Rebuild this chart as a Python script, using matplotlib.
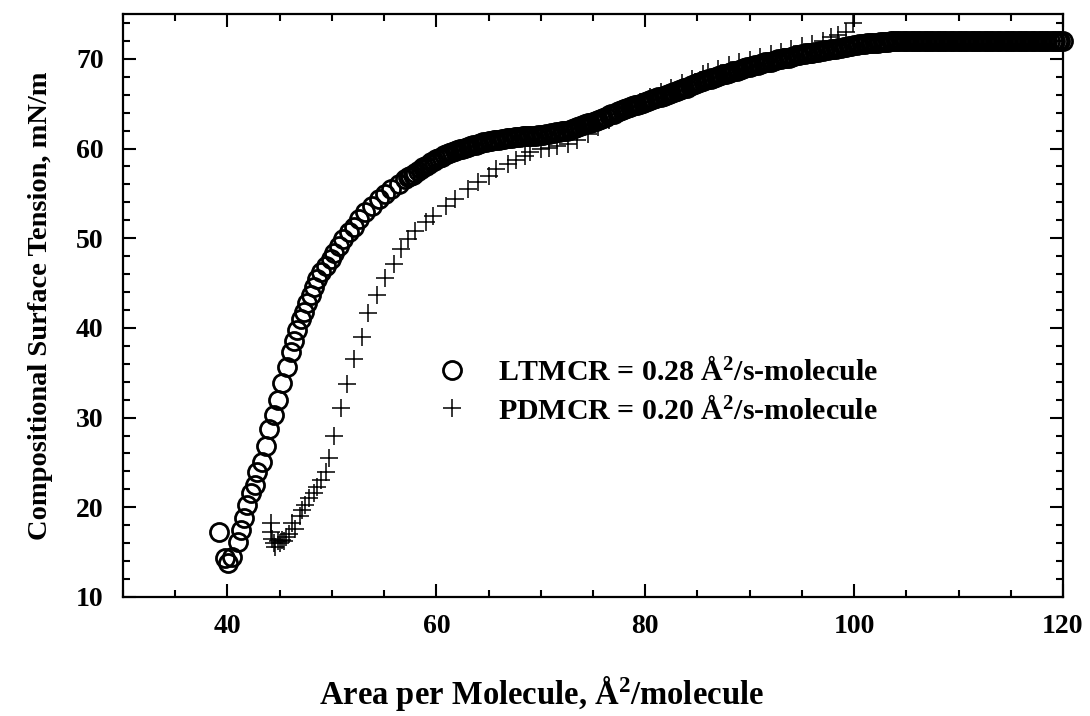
import matplotlib
matplotlib.use("Agg")
import matplotlib.pyplot as plt
from matplotlib.ticker import MultipleLocator

plt.rcParams['font.family'] = ['Liberation Serif', 'DejaVu Serif']
plt.rcParams['font.weight'] = 'bold'
plt.rcParams['mathtext.fontset'] = 'custom'
plt.rcParams['mathtext.rm'] = 'Liberation Serif:bold'
plt.rcParams['mathtext.it'] = 'Liberation Serif:bold'
plt.rcParams['mathtext.bf'] = 'Liberation Serif:bold'

# LTMCR = 0.28 A^2/s-molecule (open circles)
ltmcr_area = [
    39.2, 39.8, 40.1, 40.4, 41.0, 41.3, 41.6, 41.9, 42.3, 42.6, 42.8, 43.3, 43.7,
    44.0, 44.5, 44.8, 45.2, 45.7, 46.1, 46.4, 46.7, 47.0, 47.3, 47.6, 48.0, 48.3,
    48.6, 49.0, 49.4, 49.9, 50.2, 50.7, 51.1, 51.6, 52.1, 52.6, 53.2, 53.8, 54.5,
    55.1, 55.7, 56.4, 57.0,
    57.25, 57.5, 57.75, 58.0, 58.25, 58.5, 58.75, 59.0, 59.25, 59.5, 59.75, 60.0,
    60.25, 60.5, 60.75, 61.0, 61.25, 61.5, 61.75, 62.0, 62.25, 62.5, 62.75, 63.0,
    63.25, 63.5, 63.75, 64.0, 64.25, 64.5, 64.75, 65.0, 65.25, 65.5, 65.75, 66.0,
    66.25, 66.5, 66.75, 67.0, 67.25, 67.5, 67.75, 68.0, 68.25, 68.5, 68.75, 69.0,
    69.25, 69.5, 69.75, 70.0, 70.25, 70.5, 70.75, 71.0, 71.25, 71.5, 71.75, 72.0,
    72.25, 72.5, 72.75, 73.0, 73.25, 73.5, 73.75, 74.0, 74.25, 74.5, 74.75, 75.0,
    75.25, 75.5, 75.75, 76.0, 76.25, 76.5, 76.75, 77.0, 77.25, 77.5, 77.75, 78.0,
    78.25, 78.5, 78.75, 79.0, 79.25, 79.5, 79.75, 80.0, 80.25, 80.5, 80.75, 81.0,
    81.25, 81.5, 81.75, 82.0, 82.25, 82.5, 82.75, 83.0, 83.25, 83.5, 83.75, 84.0,
    84.25, 84.5, 84.75, 85.0, 85.25, 85.5, 85.75, 86.0, 86.25, 86.5, 86.75, 87.0,
    87.25, 87.5, 87.75, 88.0, 88.25, 88.5, 88.75, 89.0, 89.25, 89.5, 89.75, 90.0,
    90.25, 90.5, 90.75, 91.0, 91.25, 91.5, 91.75, 92.0, 92.25, 92.5, 92.75, 93.0,
    93.25, 93.5, 93.75, 94.0, 94.25, 94.5, 94.75, 95.0, 95.25, 95.5, 95.75, 96.0,
    96.25, 96.5, 96.75, 97.0, 97.25, 97.5, 97.75, 98.0, 98.25, 98.5, 98.75, 99.0,
    99.25, 99.5, 99.75, 100.0, 100.25, 100.5, 100.75, 101.0, 101.25, 101.5, 101.75,
    102.0, 102.25, 102.5, 102.75, 103.0, 103.25, 103.5, 103.75, 104.0,
    104.25, 104.5, 104.75, 105.0, 105.25, 105.5, 105.75, 106.0, 106.25, 106.5,
    106.75, 107.0, 107.25, 107.5, 107.75, 108.0, 108.25, 108.5, 108.75, 109.0,
    109.25, 109.5, 109.75, 110.0, 110.25, 110.5, 110.75, 111.0, 111.25, 111.5,
    111.75, 112.0, 112.25, 112.5, 112.75, 113.0, 113.25, 113.5, 113.75, 114.0,
    114.25, 114.5, 114.75, 115.0, 115.25, 115.5, 115.75, 116.0, 116.25, 116.5,
    116.75, 117.0, 117.25, 117.5, 117.75, 118.0, 118.25, 118.5, 118.75, 119.0,
    119.25, 119.5, 119.75, 120.0,
]
ltmcr_tension = [
    17.3, 14.4, 13.8, 14.5, 16.1, 17.5, 18.8, 20.3, 21.6, 22.5, 23.9, 25.1, 26.8,
    28.7, 30.3, 32.0, 33.9, 35.6, 37.3, 38.5, 39.8, 41.0, 41.8, 42.8, 43.7, 44.6,
    45.4, 46.2, 46.9, 47.7, 48.4, 49.1, 49.9, 50.7, 51.3, 52.1, 52.9, 53.6, 54.4,
    54.9, 55.5, 56.1, 56.6,
    56.8, 56.9, 57.1, 57.3, 57.5, 57.7, 57.9, 58.1, 58.3, 58.5, 58.65, 58.8,
    58.95, 59.1, 59.25, 59.4, 59.5, 59.6, 59.7, 59.8, 59.9, 60.0, 60.1, 60.2,
    60.3, 60.4, 60.45, 60.5, 60.6, 60.7, 60.75, 60.8, 60.85, 60.9, 60.95, 61.0,
    61.05, 61.1, 61.15, 61.2, 61.2, 61.25, 61.3, 61.3, 61.35, 61.35, 61.4, 61.4,
    61.45, 61.45, 61.5, 61.5, 61.55, 61.6, 61.65, 61.7, 61.75, 61.8, 61.85, 61.9,
    61.95, 62.0, 62.1, 62.2, 62.3, 62.4, 62.5, 62.6, 62.7, 62.8, 62.9, 63.0,
    63.1, 63.2, 63.3, 63.4, 63.55, 63.7, 63.8, 63.9, 64.05, 64.2, 64.3, 64.4,
    64.5, 64.6, 64.7, 64.8, 64.9, 65.0, 65.1, 65.2, 65.3, 65.4, 65.5, 65.6,
    65.7, 65.8, 65.9, 66.0, 66.1, 66.2, 66.3, 66.4, 66.5, 66.6, 66.7, 66.8,
    66.95, 67.1, 67.2, 67.3, 67.4, 67.5, 67.6, 67.7, 67.8, 67.9, 68.0, 68.1,
    68.2, 68.3, 68.35, 68.4, 68.5, 68.6, 68.7, 68.8, 68.9, 69.0, 69.05, 69.1,
    69.2, 69.3, 69.35, 69.4, 69.5, 69.6, 69.65, 69.7, 69.8, 69.9, 69.95, 70.0,
    70.05, 70.1, 70.15, 70.2, 70.3, 70.4, 70.45, 70.5, 70.55, 70.6, 70.65, 70.7,
    70.75, 70.8, 70.85, 70.9, 70.95, 71.0, 71.05, 71.1, 71.15, 71.2, 71.25, 71.3,
    71.35, 71.4, 71.45, 71.5, 71.55, 71.6, 71.65, 71.7, 71.72, 71.75, 71.78,
    71.8, 71.82, 71.85, 71.88, 71.9, 71.92, 71.95, 71.97, 72.0,
    72.0, 72.0, 72.0, 72.0, 72.0, 72.0, 72.0, 72.0, 72.0, 72.0,
    72.0, 72.0, 72.0, 72.0, 72.0, 72.0, 72.0, 72.0, 72.0, 72.0,
    72.0, 72.0, 72.0, 72.0, 72.0, 72.0, 72.0, 72.0, 72.0, 72.0,
    72.0, 72.0, 72.0, 72.0, 72.0, 72.0, 72.0, 72.0, 72.0, 72.0,
    72.0, 72.0, 72.0, 72.0, 72.0, 72.0, 72.0, 72.0, 72.0, 72.0,
    72.0, 72.0, 72.0, 72.0, 72.0, 72.0, 72.0, 72.0, 72.0, 72.0,
    72.0, 72.0, 72.0, 72.0,
]

# PDMCR = 0.20 A^2/s-molecule (plus signs)
pdmcr_area = [
    44.2, 44.2, 44.3, 44.5, 44.6, 44.8, 45.0, 45.2, 45.4, 45.6, 45.9, 46.2, 46.5,
    46.9, 47.1, 47.4, 47.8, 48.3, 48.6, 49.0, 49.4, 49.7, 50.2, 50.9, 51.4, 52.1,
    52.9, 53.5, 54.3, 55.1, 55.9, 56.6, 57.3, 58.0, 59.0, 59.7, 60.9, 61.8, 63.0,
    64.0, 65.0, 65.7, 66.9, 67.6, 68.5, 69.0, 70.0, 70.8, 71.6, 72.6, 73.5, 74.5,
    75.5, 76.5, 77.5, 78.5, 79.5, 80.5, 81.5, 82.5, 83.5, 84.5, 85.5, 86.0, 87.0,
    88.0, 89.0, 90.0, 91.0, 92.0, 93.0, 94.0, 95.0, 96.0, 97.0, 97.8, 98.5, 99.2,
    99.9,
]
pdmcr_tension = [
    18.3, 17.3, 16.5, 16.0, 15.6, 16.2, 16.0, 16.4, 16.2, 16.7, 17.0, 18.3, 17.6,
    19.0, 19.7, 20.3, 21.0, 21.6, 22.3, 23.1, 23.9, 25.5, 27.9, 31.1, 33.7, 36.5,
    39.0, 41.7, 43.7, 45.6, 47.1, 48.8, 49.9, 50.8, 51.8, 52.5, 53.6, 54.4, 55.5,
    56.3, 56.9, 57.7, 58.3, 58.7, 59.2, 59.6, 59.9, 60.1, 60.3, 60.5, 61.0, 61.6,
    62.4, 63.2, 63.9, 64.6, 65.2, 65.8, 66.3, 66.8, 67.3, 67.8, 68.3, 68.5, 68.9,
    69.3, 69.6, 69.9, 70.2, 70.5, 70.8, 71.1, 71.4, 71.7, 72.0, 72.4, 72.7, 73.0,
    74.0,
]

x_ticks = [40, 60, 80, 100, 120]
y_ticks = [10, 20, 30, 40, 50, 60, 70]

fig = plt.figure(figsize=(10.9, 7.16), dpi=100)
ax = fig.add_axes([123 / 1090, 1 - 597 / 716, (1063 - 123) / 1090, (597 - 14) / 716])

ax.plot(ltmcr_area, ltmcr_tension, linestyle='none', marker='o', markersize=13,
        markerfacecolor='none', markeredgecolor='black', markeredgewidth=2.0,
        label=r'LTMCR = 0.28 Å$^2$/s-molecule', clip_on=False)
ax.plot(pdmcr_area, pdmcr_tension, linestyle='none', marker='+', markersize=13,
        color='black', markeredgewidth=1.1,
        label=r'PDMCR = 0.20 Å$^2$/s-molecule', clip_on=False)

ax.set_xlim(30, 120)
ax.set_ylim(10, 75)
ax.set_xticks(x_ticks)
ax.set_yticks(y_ticks)
ax.xaxis.set_minor_locator(MultipleLocator(5))
ax.yaxis.set_minor_locator(MultipleLocator(2))
ax.tick_params(which='both', direction='in', top=True, right=True, width=1.5)
ax.tick_params(which='major', length=9.5, labelsize=20)
ax.tick_params(axis='x', which='major', pad=12)
ax.tick_params(axis='y', which='major', pad=14)
ax.tick_params(which='minor', length=5)
for lab in ax.get_xticklabels() + ax.get_yticklabels():
    lab.set_fontweight('bold')
for sp in ax.spines.values():
    sp.set_linewidth(1.6)

ax.set_xlabel(r'Area per Molecule, Å$^2$/molecule', fontsize=23.5, fontweight='bold')
ax.set_ylabel('Compositional Surface Tension, mN/m', fontsize=20.5, fontweight='bold')
ax.xaxis.set_label_coords((541 - 123) / 940, -(674 - 597) / 583)
ax.yaxis.set_label_coords(-(123 - 53) / 940, 0.5)

leg = ax.legend(loc='center left', bbox_to_anchor=((425 - 123) / 940, 1 - (391 - 14) / 583),
                borderaxespad=0, frameon=False, fontsize=21.5, handletextpad=1.05,
                labelspacing=0.32, handlelength=1.0)
for t in leg.get_texts():
    t.set_fontweight('bold')

fig.savefig('out.png', dpi=100)
